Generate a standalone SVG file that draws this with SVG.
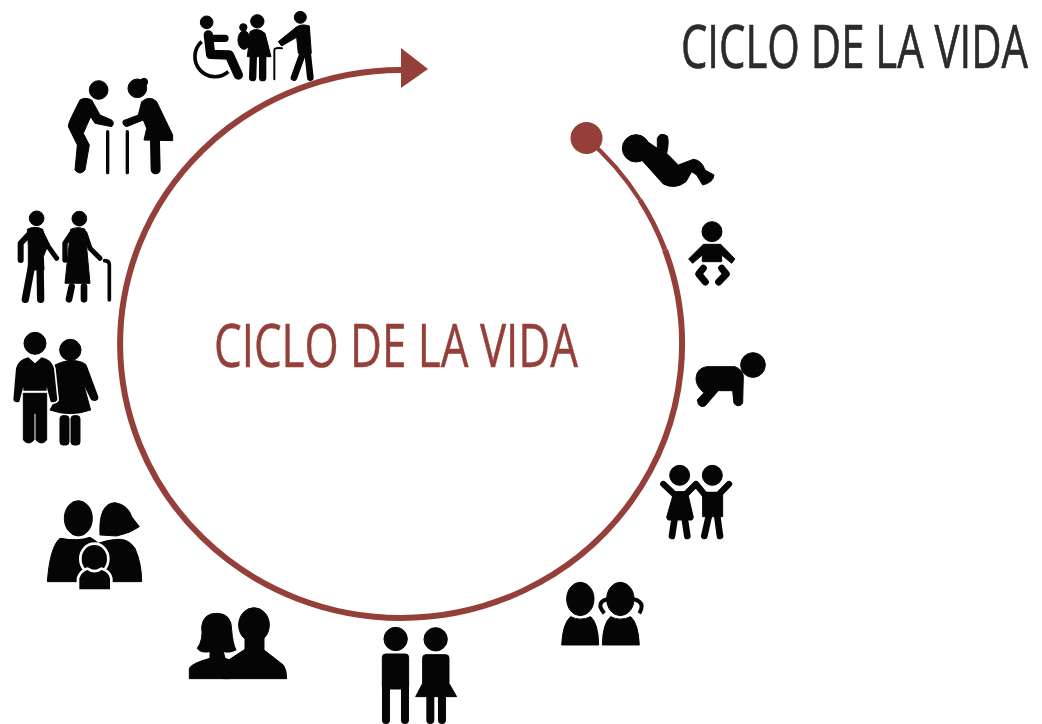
<svg xmlns="http://www.w3.org/2000/svg" width="1042" height="724" viewBox="0 0 1042 724">
<style>
.i{fill:#050505;stroke:#050505;stroke-width:3;stroke-linejoin:round}
.s{fill:none;stroke:#050505;stroke-linecap:round;stroke-linejoin:round}
.w{stroke:#fff;stroke-width:16;paint-order:stroke}
.v{stroke:#fff;stroke-width:10;paint-order:stroke}
.t{font-family:"Open Sans","Liberation Sans",sans-serif;stroke-width:.5}
.a{fill:none;stroke:#943f39}
</style>
<rect width="1042" height="724" fill="#fff"/>
<g id="connectors">
<path class="a" d="M586 137.800 A281 274 0 0 1 640 200" stroke-width="4.200"/>
<path class="a" d="M640 200 A281 274 0 0 1 665 250" stroke-width="5"/>
<path class="a" d="M665 250 A281 274 0 0 1 401 618 A281 274 0 0 1 401 70 H403" stroke-width="6"/>
<polygon points="401,48 428,69 401,88" fill="#943f39"/>
<circle cx="586.500" cy="138" r="16" fill="#943f39"/>
</g>
<g id="title"><text class="t" transform="translate(681,68) scale(1,1.49)" font-size="41" fill="#2b2b2b" stroke="#2b2b2b" textLength="347" lengthAdjust="spacingAndGlyphs">CICLO DE LA VIDA</text></g>
<g id="center-label"><text class="t" x="214" y="367" font-size="60" fill="#943f39" stroke="#943f39" textLength="364" lengthAdjust="spacingAndGlyphs">CICLO DE LA VIDA</text></g>

<g id="node-newborn" transform="translate(550,110) scale(.3333)">
<ellipse class="i" cx="258" cy="115" rx="41" ry="41"/>
<path class="i" d="M285 90 L322 115 L322 85 Q330 65 352 78 Q358 95 350 130 L385 165 L430 148 Q455 150 465 180 L492 195 Q490 218 458 225 L440 195 L425 185 L408 215 Q375 240 340 222 L275 150Z"/>
</g>
<g id="node-baby" transform="translate(550,110) scale(.3333)">
<circle class="i" cx="486" cy="365" r="30"/>
<path class="i" d="M460 403 L512 403 L555 447 L545 460 L515 435 L515 455 L457 455 L457 435 L428 460 L416 447Z"/>
<path class="s" stroke-width="21" d="M460 475 L446 492 L466 516 M515 475 L529 492 L506 516"/>
</g>
<g id="node-crawler" transform="translate(550,340) scale(.3333)">
<circle class="i" cx="609" cy="75" r="37"/>
<path class="i" d="M470 80 L555 80 Q580 90 580 110 L578 190 Q565 205 552 190 L548 152 L505 152 L465 198 Q445 205 442 180 L462 158 Q438 140 438 115 Q440 85 470 80Z"/>
</g>
<g id="node-toddlers" transform="translate(550,340) scale(.3333)">
<circle class="i" cx="389" cy="406" r="30"/><circle class="i" cx="487" cy="406" r="30"/>
<path class="s" stroke-width="19" d="M340 432 L375 465 L405 465 L438 432 L465 465 L505 465 L537 432"/>
<path class="i" d="M372 455 L412 455 L430 532 L426 540 L354 540 L350 532Z"/>
<path class="i" d="M458 458 H518 V530 H458Z"/>
<path class="s" stroke-width="20" d="M374 535 L366 588 M404 535 L412 588 M476 530 L463 588 M502 530 L510 588"/>
</g>
<g id="node-children" transform="translate(550,340) scale(.3333)">
<ellipse class="i" cx="91" cy="777" rx="41" ry="50"/><ellipse class="i" cx="211" cy="777" rx="41" ry="50"/>
<path class="i" d="M35 915 Q38 850 62 830 Q90 845 122 830 Q145 850 146 915Z"/>
<path class="i" d="M157 915 Q158 850 182 830 Q210 845 242 830 Q265 850 268 915Z"/>
<path fill="none" stroke="#050505" stroke-width="12" d="M172 778 Q150 782 151 800 Q155 812 163 820 M250 778 Q273 782 275 798 Q275 810 268 820"/>
</g>
<g id="node-teens" transform="translate(180,570) scale(.3333)">
<circle class="i" cx="647" cy="207" r="35"/><circle class="i" cx="767" cy="208" r="35"/>
<rect class="i" x="607" y="252" width="79" height="105" rx="10"/>
<path class="s" stroke-width="24" d="M618 340 V450 M675 340 V450 M751 370 V450 M786 370 V450"/>
<path class="i" d="M738 254 H797 Q807 254 807 264 V340 L830 380 H707 L728 340 V264 Q728 254 738 254Z"/>
</g>
<g id="node-couple" transform="translate(180,570) scale(.3333)">
<path class="i" d="M65 170 Q70 130 110 130 Q155 130 155 180 Q158 220 168 240 Q150 250 130 245 L135 265 L150 270 L150 326 H28 L28 295 Q35 280 90 265 L90 245 Q60 250 52 235 Q70 210 65 170Z"/>
<ellipse class="i" cx="222" cy="165" rx="46" ry="52"/>
<path class="i" d="M146 270 L195 238 L195 200 H252 V240 L310 285 Q320 300 320 326 H130 V280Z"/>
</g>
<g id="node-family" transform="translate(0,320) scale(.3333)">
<ellipse class="i" cx="235" cy="595" rx="42" ry="53"/>
<path class="i" d="M300 645 Q295 550 345 548 Q385 555 395 590 L418 620 Q390 640 350 648 Z"/>
<path class="i" d="M142 785 Q150 680 180 655 Q235 665 270 652 Q285 660 295 670 Q320 660 352 658 Q385 655 405 685 Q425 730 425 785Z"/>
<ellipse class="i w" cx="283" cy="717" rx="38" ry="42"/>
<path class="i w" d="M238 808 L238 775 Q245 755 262 750 Q283 765 305 750 Q325 755 330 775 L330 808Z"/>
</g>
<g id="node-mature" transform="translate(0,320) scale(.3333)">
<circle class="i" cx="211" cy="90" r="32"/>
<path class="i" d="M165 135 Q210 112 250 128 L290 235 L275 240 L250 190 L272 270 Q210 292 150 270 L170 235Z"/>
<path class="s" stroke-width="22" d="M250 140 L284 232"/>
<rect class="i" x="180" y="287" width="27" height="88" rx="9"/><rect class="i" x="213" y="287" width="27" height="88" rx="9"/>
<circle class="i" cx="105" cy="70" r="33"/>
<path class="i v" d="M40 240 L48 145 Q55 118 85 112 L105 130 L125 112 Q155 118 162 145 L172 240 Q165 250 152 245 L140 200 V212 H70 V200 L58 245 Q45 250 40 240Z"/>
<path class="i" d="M70 220 H140 V360 Q125 378 108 360 V280 H102 V360 Q85 378 70 360Z"/>
</g>
<g id="node-elders" transform="translate(0,70) scale(.3333)">
<circle class="i" cx="110" cy="445" r="22"/><circle class="i" cx="238" cy="446" r="22"/>
<path class="i" d="M82 478 Q105 466 128 478 L142 530 L130 560 L132 600 H85 L85 530Z"/>
<path class="s" stroke-width="18" d="M90 490 L62 520 V570"/>
<path class="s" stroke-width="15" d="M125 490 L145 530 L170 565"/>
<path class="s" stroke-width="22" d="M98 570 L76 688 M120 570 L122 688"/>
<path class="i" d="M212 478 Q235 468 255 478 L270 640 H195Z"/>
<path class="s" stroke-width="16" d="M215 490 L195 520 V570"/>
<path class="s" stroke-width="15" d="M255 490 L270 535 L300 565"/>
<path class="s" stroke-width="20" d="M215 650 L207 688 M252 650 V688"/>
<path class="s" stroke-width="11" d="M328 690 V585 Q328 572 314 572"/>
</g>
<g id="node-walkers" transform="translate(0,70) scale(.3333)">
<circle class="i" cx="296" cy="60" r="28"/>
<path class="i" d="M240 90 Q255 80 275 90 L300 135 L335 150 Q345 160 335 170 L285 160 L272 140 L250 190 L268 225 L255 300 Q240 318 225 300 L232 225 L205 170 Q205 160 215 140Z"/>
<path class="s" stroke-width="10" d="M323 185 V308 M382 185 V308"/>
<circle class="i" cx="412" cy="55" r="28"/><circle class="i" cx="432" cy="36" r="11"/>
<path class="i" d="M425 95 Q450 75 470 95 L518 195 V212 L432 210 L440 175 L430 150 L380 170 Q365 165 370 152 L415 135Z"/>
<path class="s" stroke-width="30" d="M465 215 L467 298"/>
</g>
<g id="node-care" transform="translate(170,0) scale(.3333)">
<circle class="i" cx="110" cy="67" r="19"/>
<path class="s" stroke-width="28" d="M115 105 L122 163 L178 165 L205 225"/>
<path class="s" stroke-width="22" d="M120 115 H165"/>
<path fill="none" stroke="#050505" stroke-width="11" d="M95 125 A55 55 0 1 0 175 215"/>
<circle class="i" cx="262" cy="64" r="20"/><circle class="i" cx="220" cy="82" r="11"/>
<ellipse class="i" cx="222" cy="120" rx="18" ry="28"/>
<path class="i" d="M240 95 Q262 80 285 100 L303 170 H232 L238 120Z"/>
<path class="s" stroke-width="22" d="M250 170 L248 233 M278 170 V233"/>
<path class="s" stroke-width="6" d="M313 238 V150 Q313 142 336 145"/>
<circle class="i" cx="391" cy="52" r="18"/>
<path class="i" d="M378 82 Q395 70 418 78 L424 160 H385 L380 112 L335 138 L325 125Z"/>
<path class="s" stroke-width="20" d="M402 150 L372 233 M412 150 L421 233"/>
</g>
</svg>
